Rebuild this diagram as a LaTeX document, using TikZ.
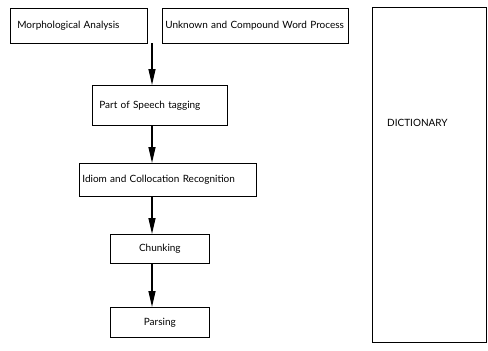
\documentclass[tikz,border=0pt]{standalone}
\usepackage{fontspec}
\setmainfont{Lato}
\usepackage{tikz}
\usetikzlibrary{positioning,arrows.meta,calc}

\begin{document}
\begin{tikzpicture}[
  x=1pt, y=-1pt,
  lbl/.style={font=\fontsize{10}{12}\selectfont, inner sep=0pt},
  stagebox/.style={draw=black, line width=0.7pt, font=\fontsize{10}{12}\selectfont, inner ysep=0pt, anchor=north west},
  leftbox/.style={stagebox, align=left, inner xsep=8pt},
  midbox/.style={stagebox, align=center, inner xsep=0pt},
  flow/.style={draw=black, line width=1.3pt, -{Triangle[length=16pt, width=7pt]}}
]
\useasboundingbox (0,0) rectangle (488,351);

\node[leftbox, text width=123pt, minimum height=35pt, inner xsep=7pt] (morph) at (10, 8) {Morphological Analysis};
\node[leftbox, text width=180pt, minimum height=35pt, inner xsep=3pt] (unknown) at (162, 8) {Unknown and Compound Word Process};
\node[leftbox, text width=121pt, minimum height=40pt, inner xsep=7pt] (pos) at (92, 85) {Part of Speech tagging};
\node[leftbox, text width=171pt, minimum height=33pt, inner xsep=3pt] (idiom) at (79, 163) {Idiom and Collocation Recognition};
\node[midbox, text width=99pt, minimum height=29pt] (chunk) at (110, 234) {Chunking};
\node[midbox, text width=99pt, minimum height=30pt] (parse) at (110, 307) {Parsing};
\node[draw=black, line width=0.9pt, minimum width=114pt, minimum height=335pt, anchor=north west] (dict) at (372, 7) {};
\node[lbl, anchor=west] (dictlbl) at (387, 123) {DICTIONARY};

\coordinate (join) at (152, 43);
\draw[flow] (join) -- (pos.north -| join);
\draw[flow] (pos.south -| join) -- (idiom.north -| join);
\draw[flow] (idiom.south -| join) -- (chunk.north -| join);
\draw[flow] (chunk.south -| join) -- (parse.north -| join);

\end{tikzpicture}
\end{document}
